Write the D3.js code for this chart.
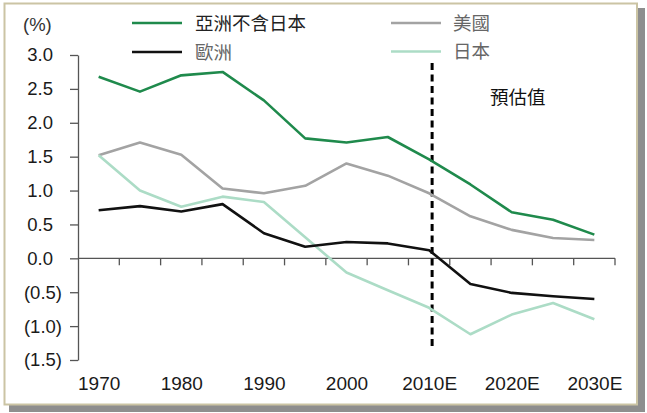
<!DOCTYPE html>
<html><head><meta charset="utf-8">
<script src="https://cdn.jsdelivr.net/npm/d3@7"></script>
<style>
html,body{margin:0;padding:0;background:#fff;}
svg{display:block;}
</style></head>
<body>
<svg id="chart" width="647" height="413"></svg>
<script>
const categories = ["1970","1975","1980","1985","1990","1995","2000","2005","2010E","2015E","2020E","2025E","2030E"];
const xTickLabels = ["1970","1980","1990","2000","2010E","2020E","2030E"];
const yTickValues = [-1.5,-1.0,-0.5,0,0.5,1.0,1.5,2.0,2.5,3.0];
const yTickLabels = ["(1.5)","(1.0)","(0.5)","0.0","0.5","1.0","1.5","2.0","2.5","3.0"];
const asiaExJapan = [2.68,2.46,2.70,2.75,2.33,1.77,1.71,1.79,1.46,1.09,0.68,0.57,0.35];
const usa = [1.52,1.71,1.53,1.03,0.96,1.07,1.40,1.22,0.96,0.62,0.42,0.30,0.27];
const europe = [0.71,0.77,0.69,0.80,0.37,0.17,0.24,0.22,0.12,-0.38,-0.51,-0.56,-0.60];
const japan = [1.52,1.00,0.76,0.91,0.83,0.31,-0.21,-0.47,-0.73,-1.12,-0.83,-0.66,-0.90];
const seriesNames = ["亞洲不含日本","歐洲","美國","日本"];
const forecastStart = "2010E";
const forecastLabel = "預估值";
const unitLabel = "(%)";

const series = [
  {name: seriesNames[0], values: asiaExJapan, color: "#1f8a4c"},
  {name: seriesNames[1], values: europe, color: "#111111"},
  {name: seriesNames[2], values: usa, color: "#a3a3a3"},
  {name: seriesNames[3], values: japan, color: "#acdcc6"}
];

const svg = d3.select("#chart");
const latin = "'Liberation Sans', Arial, sans-serif";
const cjk = "'Noto Sans CJK TC', 'Noto Sans CJK SC', sans-serif";

// frame with shadow
svg.append("rect").attr("x",9).attr("y",8).attr("width",636).attr("height",404).attr("fill","#8e8e8e");
svg.append("rect").attr("x",4.5).attr("y",3.5).attr("width",632.5).attr("height",401).attr("fill","#fff")
  .attr("stroke","#cbc4a4").attr("stroke-width",2);

const x = d3.scaleBand().domain(categories).range([78,615]).paddingInner(0).paddingOuter(0);
const y = d3.scaleLinear().domain([-1.5,3]).range([360,55]);
const cx = c => x(c) + x.bandwidth()/2;

// y axis
const yAxis = d3.axisLeft(y).tickValues(yTickValues).tickSize(8).tickSizeOuter(0)
  .tickFormat((d,i) => yTickLabels[i]);
const gy = svg.append("g").attr("transform","translate(78,0)").call(yAxis);
gy.select(".domain").attr("stroke","#555").attr("stroke-width",1.3);
gy.selectAll(".tick line").attr("stroke","#555").attr("stroke-width",1.3);
gy.selectAll(".tick text")
  .attr("x", d => d < 0 ? -16 : -25)
  .attr("font-family", latin).attr("font-size", 18.5).attr("fill","#1a1a1a");

// x axis line at zero with ticks at band edges
const gx = svg.append("g").attr("transform",`translate(0,${y(0)})`);
gx.append("line").attr("x1",x.range()[0]).attr("x2",x.range()[1]).attr("stroke","#555").attr("stroke-width",1.3);
const edges = categories.map(c => x(c)).concat([x.range()[1]]);
gx.selectAll("line.tk").data(edges.slice(1)).join("line").attr("class","tk")
  .attr("x1",d=>d).attr("x2",d=>d).attr("y1",0).attr("y2",7).attr("stroke","#555").attr("stroke-width",1.3);

// x labels
const xLabAxis = d3.axisBottom(d3.scalePoint().domain(categories).range([cx(categories[0]), cx(categories[categories.length-1])]))
  .tickValues(xTickLabels).tickSize(0);
const gxl = svg.append("g").attr("transform","translate(0,376)").call(xLabAxis);
gxl.select(".domain").remove();
gxl.selectAll(".tick text").attr("y",0).attr("dy","0.71em")
  .attr("font-family", latin).attr("font-size", 19).attr("fill","#1a1a1a");

// unit label
svg.append("text").attr("x",23).attr("y",31).text(unitLabel)
  .attr("font-family", latin).attr("font-size",18.5).attr("fill","#333");

// forecast dashed line
const fx = cx(forecastStart) + 3;
svg.append("line").attr("x1",fx).attr("x2",fx).attr("y1",63).attr("y2",349)
  .attr("stroke","#000").attr("stroke-width",3).attr("stroke-dasharray","7,4.5");
svg.append("text").attr("x",490).attr("y",104).text(forecastLabel)
  .attr("font-family", cjk).attr("font-size",18.5).attr("fill","#111");

// lines
const line = d3.line().x((d,i) => cx(categories[i])).y(d => y(d));
const drawOrder = [series[2], series[3], series[1], series[0]];
svg.selectAll("path.series").data(drawOrder).join("path").attr("class","series")
  .attr("d", d => line(d.values)).attr("fill","none")
  .attr("stroke", d => d.color).attr("stroke-width",2.6).attr("stroke-linejoin","round");

// legend
const legendPos = [
  {lx:132, ly:23, tx:195, fill:"#222"},
  {lx:132, ly:52, tx:195, fill:"#666"},
  {lx:391, ly:23, tx:453, fill:"#666"},
  {lx:391, ly:51.5, tx:453, fill:"#666"}
];
const lg = svg.append("g");
series.forEach((s,i) => {
  const p = legendPos[i];
  lg.append("line").attr("x1",p.lx).attr("x2",p.lx+50).attr("y1",p.ly).attr("y2",p.ly)
    .attr("stroke",s.color).attr("stroke-width",2.6);
  lg.append("text").attr("x",p.tx).attr("y",p.ly).attr("dy","0.36em").text(s.name)
    .attr("font-family", cjk).attr("font-size",18.5).attr("fill",p.fill);
});
</script>
</body></html>
